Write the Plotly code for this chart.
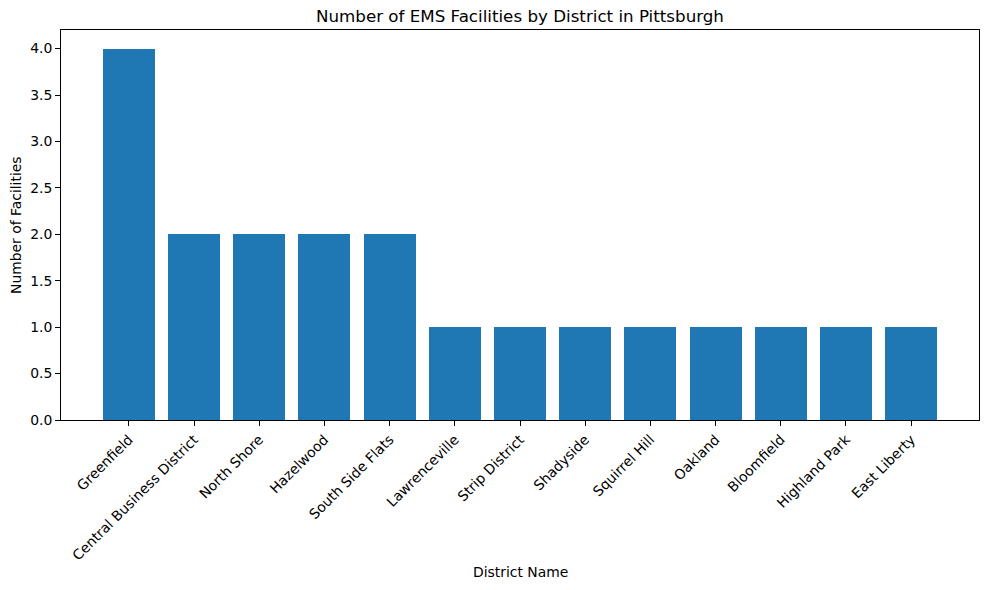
import plotly.graph_objects as go

districts = ["Greenfield", "Central Business District", "North Shore", "Hazelwood",
             "South Side Flats", "Lawrenceville", "Strip District", "Shadyside",
             "Squirrel Hill", "Oakland", "Bloomfield", "Highland Park", "East Liberty"]
facilities = [4, 2, 2, 2, 2, 1, 1, 1, 1, 1, 1, 1, 1]
y_ticks = [0.0, 0.5, 1.0, 1.5, 2.0, 2.5, 3.0, 3.5, 4.0]

W, H = 989, 590
L, R, T, B = 61, 10, 30, 170
FONT = "DejaVu Sans"

fig = go.Figure(go.Bar(x=districts, y=facilities, marker_color="#1f77b4",
                       marker_line_width=0, width=0.8))

axis_common = dict(showline=True, linecolor="black", linewidth=1, mirror=True,
                   ticks="outside", ticklen=5, tickwidth=1, tickcolor="black",
                   showgrid=False, zeroline=False,
                   tickfont=dict(family=FONT, size=13.9, color="black"))

fig.update_xaxes(type="category", range=[-1.04, 13.04], tickangle=-45, **axis_common)
fig.update_yaxes(range=[0, 4.2], tickvals=y_ticks, tickformat=".1f", **axis_common)

pw = W - L - R
ph = H - T - B
fig.update_layout(
    width=W, height=H,
    margin=dict(l=L, r=R, t=T, b=B, autoexpand=False),
    plot_bgcolor="white", paper_bgcolor="white",
    showlegend=False, bargap=0,
    annotations=[
        dict(text="Number of EMS Facilities by District in Pittsburgh",
             xref="paper", yref="paper", x=0.5, y=1 + (T - 16) / ph,
             xanchor="center", yanchor="middle", showarrow=False,
             font=dict(family=FONT, size=16.7, color="black")),
        dict(text="District Name", xref="paper", yref="paper",
             x=0.5, y=-(572 - (H - B)) / ph, xanchor="center", yanchor="middle",
             showarrow=False, font=dict(family=FONT, size=13.9, color="black")),
        dict(text="Number of Facilities", xref="paper", yref="paper",
             x=-(L - 16) / pw, y=0.5, xanchor="center", yanchor="middle",
             textangle=-90, showarrow=False,
             font=dict(family=FONT, size=13.9, color="black")),
    ],
)

fig.write_html("out.html", config={"displayModeBar": False},
               post_script="document.body.style.margin='0';document.body.style.overflow='hidden';")
